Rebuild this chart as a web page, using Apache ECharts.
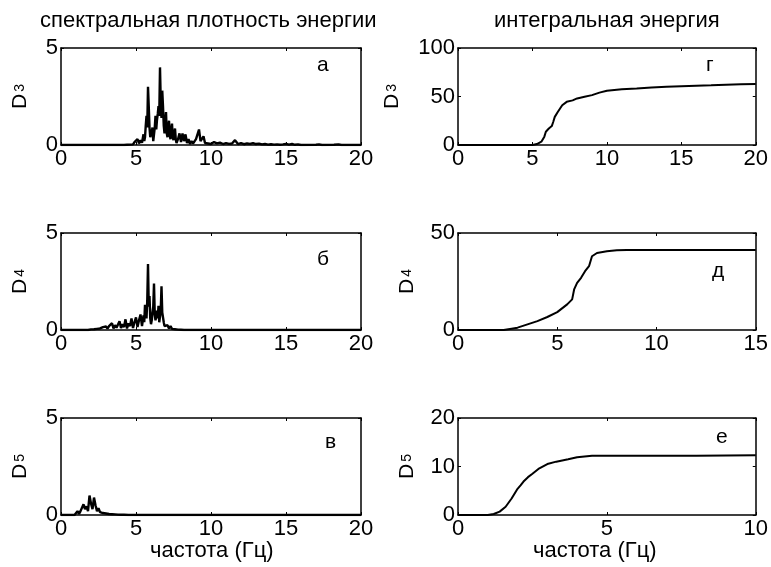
<!DOCTYPE html>
<html>
<head>
<meta charset="utf-8">
<script src="https://cdn.jsdelivr.net/npm/echarts@6/dist/echarts.min.js"></script>
<style>
  html, body { margin: 0; padding: 0; background: #fff; }
  #chart { width: 771px; height: 567px; }
</style>
</head>
<body>
<div id="chart"></div>
<script>
// Spectral energy density, D3 station: [frequency Hz, density]
const specD3 = [
  [0, 0], [4.0, 0], [4.1, 0.02], [4.2, 0], [4.3, 0.03], [4.4, 0.01], [4.5, 0.04], [4.6, 0.02],
  [4.7, 0.06], [4.8, 0.03], [4.9, 0.15], [5.0, 0.05], [5.1, 0.3], [5.2, 0.08], [5.3, 0.25],
  [5.4, 0.12], [5.5, 0.55], [5.55, 0.2], [5.6, 0.4], [5.65, 1.0], [5.7, 1.5], [5.75, 0.9],
  [5.8, 3.0], [5.85, 2.0], [5.9, 0.9], [5.95, 0.4], [6.0, 0.3], [6.05, 0.7], [6.1, 0.9],
  [6.15, 0.2], [6.2, 0.25], [6.25, 0.9], [6.3, 1.5], [6.35, 0.8], [6.4, 1.3], [6.45, 1.6],
  [6.5, 2.0], [6.55, 1.5], [6.6, 4.0], [6.65, 2.2], [6.7, 1.4], [6.75, 2.8], [6.8, 2.0],
  [6.85, 1.0], [6.9, 0.6], [6.95, 1.2], [7.0, 1.7], [7.05, 0.6], [7.1, 0.4], [7.15, 0.9],
  [7.2, 1.25], [7.25, 0.5], [7.3, 0.3], [7.35, 0.8], [7.4, 1.1], [7.45, 0.4], [7.5, 0.25],
  [7.55, 0.6], [7.6, 0.85], [7.65, 0.3], [7.7, 0.1], [7.8, 0.3], [7.9, 0.6], [8.0, 0.15],
  [8.1, 0.6], [8.2, 0.2], [8.3, 0.55], [8.4, 0.1], [8.5, 0.3], [8.6, 0.05], [8.7, 0.2],
  [8.8, 0.08], [8.9, 0.15], [9.0, 0.3], [9.1, 0.55], [9.2, 0.8], [9.3, 0.2], [9.4, 0.25],
  [9.5, 0.45], [9.6, 0.1], [9.7, 0.2], [9.8, 0.08], [9.9, 0.15], [10.0, 0.05], [10.2, 0.15],
  [10.4, 0.08], [10.6, 0.12], [10.8, 0.05], [11.0, 0.1], [11.2, 0.06], [11.4, 0.08],
  [11.6, 0.25], [11.8, 0.05], [12.0, 0.1], [12.2, 0.04], [12.4, 0.08], [12.6, 0.06],
  [12.8, 0.1], [13.0, 0.05], [13.2, 0.07], [13.4, 0.03], [13.6, 0.05], [13.8, 0.02],
  [14.0, 0.04], [14.2, 0.02], [14.4, 0.03], [14.6, 0.01], [14.8, 0.03], [15.0, 0.06],
  [15.2, 0.02], [15.4, 0.05], [15.6, 0.01], [15.8, 0.03], [16.0, 0], [17.0, 0.01],
  [17.2, 0.03], [17.4, 0], [18.2, 0.01], [18.5, 0.03], [18.7, 0], [20, 0]
];

// Spectral energy density, D4 station
const specD4 = [
  [0, 0], [1.8, 0], [1.9, 0.01], [2.0, 0.03], [2.1, 0.01], [2.2, 0.04], [2.3, 0.02],
  [2.4, 0.06], [2.5, 0.03], [2.6, 0.08], [2.7, 0.05], [2.8, 0.15], [2.9, 0.06], [3.0, 0.18],
  [3.1, 0.07], [3.2, 0.2], [3.3, 0.1], [3.4, 0.35], [3.5, 0.08], [3.6, 0.25], [3.7, 0.12],
  [3.8, 0.2], [3.9, 0.45], [4.0, 0.1], [4.1, 0.3], [4.2, 0.15], [4.3, 0.55], [4.4, 0.08],
  [4.5, 0.35], [4.6, 0.2], [4.7, 0.6], [4.8, 0.1], [4.9, 0.4], [5.0, 0.65], [5.1, 0.15],
  [5.2, 0.5], [5.3, 0.8], [5.4, 0.2], [5.5, 0.75], [5.55, 0.4], [5.6, 1.3], [5.65, 0.8],
  [5.7, 0.6], [5.75, 1.5], [5.8, 3.4], [5.85, 1.2], [5.9, 1.75], [5.95, 0.6], [6.0, 0.3],
  [6.05, 0.5], [6.1, 0.9], [6.15, 1.2], [6.2, 2.4], [6.25, 0.8], [6.3, 0.5], [6.35, 0.7],
  [6.4, 1.0], [6.45, 0.6], [6.5, 1.25], [6.55, 0.4], [6.6, 0.3], [6.65, 1.0], [6.7, 2.25],
  [6.75, 0.9], [6.8, 0.8], [6.85, 0.4], [6.9, 0.2], [7.0, 0.15], [7.1, 0.25], [7.2, 0.08],
  [7.3, 0.2], [7.4, 0.06], [7.5, 0.1], [7.6, 0.04], [7.7, 0.05], [7.8, 0.02], [7.9, 0.03],
  [8.0, 0.01], [8.2, 0], [20, 0]
];

// Spectral energy density, D5 station
const specD5 = [
  [0, 0], [0.9, 0], [1.0, 0.03], [1.1, 0.2], [1.2, 0.05], [1.3, 0.2], [1.4, 0.1], [1.5, 0.55],
  [1.6, 0.3], [1.7, 0.45], [1.8, 0.2], [1.9, 1.0], [2.0, 0.6], [2.1, 0.3], [2.2, 0.9],
  [2.3, 0.5], [2.4, 0.2], [2.5, 0.35], [2.6, 0.15], [2.7, 0.25], [2.8, 0.1], [2.9, 0.2],
  [3.0, 0.08], [3.1, 0.12], [3.2, 0.05], [3.3, 0.1], [3.4, 0.04], [3.5, 0.07], [3.6, 0.03],
  [3.7, 0.05], [3.8, 0.02], [3.9, 0.04], [4.0, 0.01], [4.1, 0.03], [4.2, 0.01], [4.3, 0.02],
  [4.5, 0], [20, 0]
];

// Cumulative (integral) energy curves
const cumD3 = [
  [0, 0], [5.0, 0], [5.3, 1], [5.6, 3.4], [5.8, 8.6], [5.9, 13.7], [6.1, 17], [6.3, 19.5],
  [6.4, 24], [6.5, 29], [6.7, 34], [7.0, 41], [7.3, 44.5], [7.7, 46], [8, 48], [8.5, 49.7],
  [9, 51.4], [9.5, 54], [10, 56], [11, 57.4], [12, 58.2], [13, 59.2], [14, 60], [15, 60.6],
  [17, 61.6], [19, 62.7], [20, 63]
];
const cumD4 = [
  [0, 0], [2.3, 0], [2.7, 0.7], [3.0, 1.2], [3.5, 2.9], [4.0, 4.6], [4.5, 6.7], [5.0, 9.2],
  [5.5, 13.2], [5.75, 15.8], [5.85, 20.9], [6.0, 24.3], [6.2, 26.9], [6.4, 30.3],
  [6.6, 32.9], [6.75, 38], [7.0, 39.7], [7.5, 40.6], [8, 41.1], [8.5, 41.3], [15, 41.3]
];
const cumD5 = [
  [0, 0], [1.0, 0], [1.2, 0.2], [1.4, 0.7], [1.6, 1.7], [1.8, 3.4], [2.0, 5.4], [2.1, 6.1],
  [2.2, 6.9], [2.35, 7.8], [2.5, 8.5], [2.7, 9.5], [3.0, 10.5], [3.3, 11], [3.7, 11.5],
  [4.0, 11.9], [4.5, 12.2], [8, 12.2], [10, 12.3]
];

// Axis ranges per panel: [xMax, xStep, yMax, yStep]
const panelRanges = [
  [20, 5, 5, 5], [20, 5, 100, 50],
  [20, 5, 5, 5], [15, 5, 50, 50],
  [20, 5, 5, 5], [10, 5, 20, 10]
];
const panelData = [specD3, cumD3, specD4, cumD4, specD5, cumD5];
const stationNums = ['3', '3', '4', '4', '5', '5'];
const panelLetters = ['а', 'г', 'б', 'д', 'в', 'е'];
const columnTitles = ['спектральная плотность энергии', 'интегральная энергия'];
const xAxisTitle = 'частота (Гц)';

const FONT = '"Liberation Sans", Arial, Helvetica, sans-serif';
const gridLefts = [61, 458];
const gridTops = [48, 233, 418];
const GW = 300, GH = 97;
// distance of the rotated D-label from its axis (wider tick labels push it out)
const nameGaps = [30, 55, 30, 40, 30, 40];

const grids = [], xAxes = [], yAxes = [], series = [];
panelData.forEach((data, i) => {
  const col = i % 2, row = Math.floor(i / 2);
  const [xMax, xStep, yMax, yStep] = panelRanges[i];
  grids.push({ left: gridLefts[col], top: gridTops[row], width: GW, height: GH });
  const line = { show: true, onZero: false, lineStyle: { color: '#000', width: 1.5 } };
  const tick = { show: true, inside: true, length: 3, lineStyle: { color: '#000', width: 1 } };
  const xBase = { type: 'value', gridIndex: i, min: 0, max: xMax, interval: xStep,
    axisLine: line, axisTick: tick, splitLine: { show: false } };
  xAxes.push(Object.assign({}, xBase, { position: 'bottom',
    axisLabel: { color: '#000', fontSize: 22, fontFamily: FONT, margin: 3,
      showMinLabel: true, showMaxLabel: true } }));
  xAxes.push(Object.assign({}, xBase, { position: 'top', axisLabel: { show: false } }));
  const yBase = { type: 'value', gridIndex: i, min: 0, max: yMax, interval: yStep,
    axisLine: line, axisTick: tick, splitLine: { show: false } };
  yAxes.push(Object.assign({}, yBase, { position: 'left',
    axisLabel: { color: '#000', fontSize: 22, fontFamily: FONT, margin: 3,
      showMinLabel: true, showMaxLabel: true },
    name: '{d|D}{s|' + stationNums[i] + '}',
    nameLocation: 'middle', nameRotate: 90, nameGap: nameGaps[i], nameMoveOverlap: false,
    nameTextStyle: { rich: {
      d: { fontSize: 21, fontFamily: FONT, color: '#000' },
      s: { fontSize: 14, fontFamily: FONT, color: '#000', padding: [0, 0, 0, 2] }
    } } }));
  yAxes.push(Object.assign({}, yBase, { position: 'right', axisLabel: { show: false } }));
  series.push({ type: 'line', xAxisIndex: 2 * i, yAxisIndex: 2 * i, data: data,
    showSymbol: false, symbol: 'none', animation: false,
    lineStyle: { color: '#000', width: col === 0 ? 2.4 : 2 } });
});

const texts = [];
texts.push({ type: 'text', left: 40, top: 10, style: { text: columnTitles[0], font: '22px ' + FONT, fill: '#000' } });
texts.push({ type: 'text', left: 494, top: 10, style: { text: columnTitles[1], font: '22px ' + FONT, fill: '#000' } });
const letterPos = [[317, 55], [706, 55], [317, 249], [712, 261], [325, 432], [716, 427]];
panelLetters.forEach((t, i) => {
  texts.push({ type: 'text', left: letterPos[i][0], top: letterPos[i][1],
    style: { text: t, font: '21px ' + FONT, fill: '#000' } });
});
texts.push({ type: 'text', left: 150, top: 540, style: { text: xAxisTitle, font: '22px ' + FONT, fill: '#000' } });
texts.push({ type: 'text', left: 533, top: 540, style: { text: xAxisTitle, font: '22px ' + FONT, fill: '#000' } });

const chart = echarts.init(document.getElementById('chart'), null, { renderer: 'canvas' });
chart.setOption({
  backgroundColor: '#fff',
  animation: false,
  grid: grids,
  xAxis: xAxes,
  yAxis: yAxes,
  series: series,
  graphic: texts
});
</script>
</body>
</html>
